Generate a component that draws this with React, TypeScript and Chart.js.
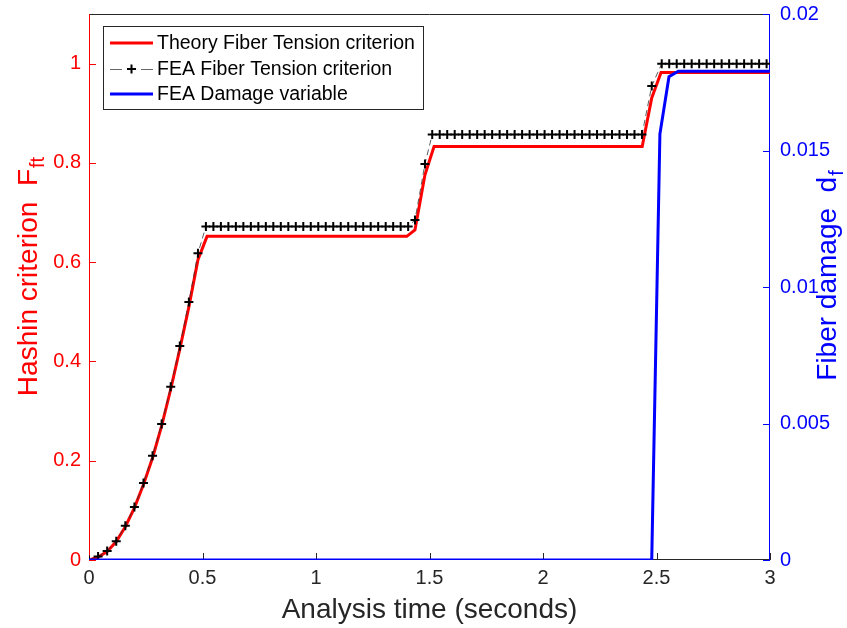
import React, { useEffect, useRef } from 'react';
import { Chart, registerables } from 'chart.js';

Chart.register(...registerables);

// ---- data ----
const theoryTime = [0, 0.04, 0.08, 0.12, 0.16, 0.2, 0.24, 0.28, 0.32, 0.36, 0.4, 0.44, 0.48, 0.52, 1.4, 1.436, 1.48, 1.52, 2.437, 2.479, 2.52, 3.0];
const theoryValue = [0, 0.006, 0.017, 0.037, 0.067, 0.105, 0.152, 0.206, 0.27, 0.344, 0.425, 0.51, 0.605, 0.652, 0.652, 0.665, 0.776, 0.833, 0.833, 0.931, 0.982, 0.982];

const feaTime = [
  0, 0.04, 0.08, 0.12, 0.16, 0.2, 0.24, 0.28, 0.32, 0.36, 0.4, 0.44, 0.48,
  0.515, 0.548, 0.581, 0.614, 0.647, 0.68, 0.713, 0.746, 0.779, 0.812, 0.845, 0.878, 0.911, 0.944,
  0.977, 1.01, 1.043, 1.076, 1.109, 1.142, 1.175, 1.208, 1.241, 1.274, 1.307, 1.34, 1.373, 1.406,
  1.436, 1.48,
  1.512, 1.545, 1.578, 1.611, 1.644, 1.677, 1.71, 1.743, 1.776, 1.809, 1.842, 1.875, 1.908, 1.941,
  1.974, 2.007, 2.04, 2.073, 2.106, 2.139, 2.172, 2.205, 2.238, 2.271, 2.304, 2.337, 2.37, 2.403, 2.436,
  2.479,
  2.523, 2.556, 2.589, 2.622, 2.655, 2.688, 2.721, 2.754, 2.787, 2.82, 2.853, 2.886, 2.919, 2.952, 2.985,
];
const feaValue = [
  0, 0.007, 0.018, 0.038, 0.069, 0.107, 0.155, 0.21, 0.274, 0.349, 0.431, 0.52, 0.618,
  0.672, 0.672, 0.672, 0.672, 0.672, 0.672, 0.672, 0.672, 0.672, 0.672, 0.672, 0.672, 0.672, 0.672,
  0.672, 0.672, 0.672, 0.672, 0.672, 0.672, 0.672, 0.672, 0.672, 0.672, 0.672, 0.672, 0.672, 0.672,
  0.685, 0.798,
  0.857, 0.857, 0.857, 0.857, 0.857, 0.857, 0.857, 0.857, 0.857, 0.857, 0.857, 0.857, 0.857, 0.857,
  0.857, 0.857, 0.857, 0.857, 0.857, 0.857, 0.857, 0.857, 0.857, 0.857, 0.857, 0.857, 0.857, 0.857, 0.857,
  0.955,
  1.0, 1.0, 1.0, 1.0, 1.0, 1.0, 1.0, 1.0, 1.0, 1.0, 1.0, 1.0, 1.0, 1.0, 1.0,
];

const damageTime = [0, 2.479, 2.515, 2.555, 2.596, 3.0];
const damageValue = [0, 0, 0.0156, 0.0177, 0.0179, 0.0179];

const xTicks = [0, 0.5, 1, 1.5, 2, 2.5, 3];
const xTickLabels = ['0', '0.5', '1', '1.5', '2', '2.5', '3'];
const leftTicks = [0, 0.2, 0.4, 0.6, 0.8, 1];
const leftTickLabels = ['0', '0.2', '0.4', '0.6', '0.8', '1'];
const rightTicks = [0, 0.005, 0.01, 0.015, 0.02];
const rightTickLabels = ['0', '0.005', '0.01', '0.015', '0.02'];

const legendLabels = ['Theory Fiber Tension criterion', 'FEA Fiber Tension criterion', 'FEA Damage variable'];
const xTitle = 'Analysis time (seconds)';
const leftTitle = 'Hashin criterion  F';
const leftTitleSub = 'ft';
const rightTitle = 'Fiber damage  d';
const rightTitleSub = 'f';

const FONT = "'Liberation Sans', Arial, Helvetica, sans-serif";
const RED = '#ff0000';
const BLUE = '#0000ff';
const DARK = '#262626';

const toPoints = (xs: number[], ys: number[]) => xs.map((x, i) => ({ x, y: ys[i] }));

const noPad = (s: any) => {
  s.paddingTop = 0;
  s.paddingBottom = 0;
  s.paddingLeft = 0;
  s.paddingRight = 0;
};

const decorPlugin = {
  id: 'decor',
  beforeDatasetsDraw(chart: any) {
    const { ctx, chartArea, scales } = chart;
    const { left, right, top, bottom } = chartArea;
    ctx.save();
    ctx.lineWidth = 1;
    ctx.strokeStyle = DARK;
    ctx.beginPath();
    ctx.moveTo(left, Math.round(top) + 0.5);
    ctx.lineTo(right, Math.round(top) + 0.5);
    ctx.stroke();
    ctx.beginPath();
    ctx.moveTo(left, Math.round(bottom) - 0.5);
    ctx.lineTo(right, Math.round(bottom) - 0.5);
    ctx.stroke();
    xTicks.forEach((v) => {
      const px = Math.round(scales.x.getPixelForValue(v)) + 0.5;
      ctx.beginPath();
      ctx.moveTo(px, bottom);
      ctx.lineTo(px, bottom - 7);
      ctx.stroke();
    });
    ctx.strokeStyle = RED;
    ctx.beginPath();
    ctx.moveTo(Math.round(left) + 0.5, top);
    ctx.lineTo(Math.round(left) + 0.5, bottom);
    ctx.stroke();
    leftTicks.forEach((v) => {
      const py = Math.round(scales.y.getPixelForValue(v)) + 0.5;
      ctx.beginPath();
      ctx.moveTo(left, py);
      ctx.lineTo(left + 7, py);
      ctx.stroke();
    });
    ctx.strokeStyle = BLUE;
    ctx.beginPath();
    ctx.moveTo(Math.round(right) - 0.5, top);
    ctx.lineTo(Math.round(right) - 0.5, bottom);
    ctx.stroke();
    rightTicks.forEach((v) => {
      const py = Math.round(scales.y1.getPixelForValue(v)) + 0.5;
      ctx.beginPath();
      ctx.moveTo(right, py);
      ctx.lineTo(right - 7, py);
      ctx.stroke();
    });
    ctx.restore();
  },
  afterDraw(chart: any) {
    const { ctx, chartArea } = chart;
    const { left, right, top, bottom } = chartArea;
    const midY = (top + bottom) / 2 - 8;
    ctx.save();
    ctx.fillStyle = DARK;
    ctx.font = `28px ${FONT}`;
    ctx.textAlign = 'center';
    ctx.textBaseline = 'alphabetic';
    ctx.fillText(xTitle, (left + right) / 2, 618);

    const drawVertical = (main: string, sub: string, x: number, cy: number, color: string) => {
      ctx.save();
      ctx.translate(x, cy);
      ctx.rotate(-Math.PI / 2);
      ctx.fillStyle = color;
      ctx.textAlign = 'left';
      ctx.font = `28px ${FONT}`;
      const wMain = ctx.measureText(main).width;
      ctx.font = `20px ${FONT}`;
      const wSub = ctx.measureText(sub).width;
      const start = -(wMain + wSub) / 2;
      ctx.font = `28px ${FONT}`;
      ctx.fillText(main, start, 0);
      ctx.font = `20px ${FONT}`;
      ctx.fillText(sub, start + wMain + 1, 7);
      ctx.restore();
    };
    drawVertical(leftTitle, leftTitleSub, 37, midY - 2, RED);
    drawVertical(rightTitle, rightTitleSub, 836, midY - 3, BLUE);

    const bx = 103, by = 26, bw = 320, bh = 83;
    ctx.fillStyle = '#ffffff';
    ctx.fillRect(bx, by, bw, bh);
    ctx.strokeStyle = DARK;
    ctx.lineWidth = 1;
    ctx.strokeRect(bx + 0.5, by + 0.5, bw, bh);
    const rows = [43, 69, 94];
    const sx0 = 110, sx1 = 153;
    ctx.font = `19.5px ${FONT}`;
    ctx.textAlign = 'left';
    ctx.textBaseline = 'middle';
    ctx.strokeStyle = RED;
    ctx.lineWidth = 3;
    ctx.beginPath();
    ctx.moveTo(sx0, rows[0]);
    ctx.lineTo(sx1, rows[0]);
    ctx.stroke();
    ctx.strokeStyle = '#666666';
    ctx.lineWidth = 1;
    ctx.beginPath();
    ctx.moveTo(sx0, rows[1] + 0.5);
    ctx.lineTo(sx0 + 12, rows[1] + 0.5);
    ctx.moveTo(sx1 - 12, rows[1] + 0.5);
    ctx.lineTo(sx1, rows[1] + 0.5);
    ctx.stroke();
    const cx = (sx0 + sx1) / 2;
    ctx.strokeStyle = '#000000';
    ctx.lineWidth = 2;
    ctx.beginPath();
    ctx.moveTo(cx - 4.5, rows[1]);
    ctx.lineTo(cx + 4.5, rows[1]);
    ctx.moveTo(cx, rows[1] - 4.5);
    ctx.lineTo(cx, rows[1] + 4.5);
    ctx.stroke();
    ctx.strokeStyle = BLUE;
    ctx.lineWidth = 3;
    ctx.beginPath();
    ctx.moveTo(sx0, rows[2]);
    ctx.lineTo(sx1, rows[2]);
    ctx.stroke();
    ctx.fillStyle = '#000000';
    legendLabels.forEach((t, i) => ctx.fillText(t, 157, rows[i] + 1));
    ctx.restore();
  },
};

export default function App() {
  const ref = useRef<HTMLCanvasElement | null>(null);
  useEffect(() => {
    if (!ref.current) return;
    const chart = new Chart(ref.current, {
      type: 'line',
      data: {
        datasets: [
          {
            label: legendLabels[2],
            data: toPoints(damageTime, damageValue),
            yAxisID: 'y1',
            borderColor: BLUE,
            backgroundColor: BLUE,
            borderWidth: 3,
            pointRadius: 0,
            tension: 0,
            order: 0,
          },
          {
            label: legendLabels[1],
            data: toPoints(feaTime, feaValue),
            yAxisID: 'y',
            borderColor: '#333333',
            backgroundColor: '#000000',
            borderWidth: 0.8,
            borderDash: [6, 4],
            pointStyle: 'cross',
            pointRadius: 4.5,
            pointBorderWidth: 2,
            pointBorderColor: '#000000',
            tension: 0,
            order: 1,
          },
          {
            label: legendLabels[0],
            data: toPoints(theoryTime, theoryValue),
            yAxisID: 'y',
            borderColor: RED,
            backgroundColor: RED,
            borderWidth: 3,
            pointRadius: 0,
            tension: 0,
            order: 2,
          },
        ],
      },
      options: {
        animation: false,
        responsive: false,
        maintainAspectRatio: false,
        layout: { padding: { top: 14, left: 0, right: 0, bottom: 0 } },
        plugins: { legend: { display: false }, tooltip: { enabled: false } },
        scales: {
          x: {
            type: 'linear',
            min: 0,
            max: 3,
            afterBuildTicks: (s: any) => { s.ticks = xTicks.map((v) => ({ value: v })); },
            afterFit: (s: any) => { s.height = 68; noPad(s); },
            grid: { display: false, drawTicks: false },
            border: { display: false },
            ticks: {
              color: DARK,
              font: { family: FONT, size: 20 },
              padding: 6,
              maxRotation: 0,
              autoSkip: false,
              callback: (v: any) => xTickLabels[xTicks.indexOf(Number(v))],
            },
          },
          y: {
            type: 'linear',
            position: 'left',
            min: 0,
            max: 1.1,
            afterBuildTicks: (s: any) => { s.ticks = leftTicks.map((v) => ({ value: v })); },
            afterFit: (s: any) => { s.width = 89; noPad(s); },
            grid: { display: false, drawTicks: false },
            border: { display: false },
            ticks: {
              color: RED,
              font: { family: FONT, size: 20 },
              padding: 8,
              autoSkip: false,
              callback: (v: any) => leftTickLabels[leftTicks.indexOf(Number(v))],
            },
          },
          y1: {
            type: 'linear',
            position: 'right',
            min: 0,
            max: 0.02,
            afterBuildTicks: (s: any) => { s.ticks = rightTicks.map((v) => ({ value: v })); },
            afterFit: (s: any) => { s.width = 77; noPad(s); },
            grid: { display: false, drawTicks: false },
            border: { display: false },
            ticks: {
              color: BLUE,
              font: { family: FONT, size: 20 },
              padding: 10,
              autoSkip: false,
              callback: (v: any) => rightTickLabels[rightTicks.indexOf(Number(v))],
            },
          },
        },
      },
      plugins: [decorPlugin],
    } as any);
    return () => chart.destroy();
  }, []);
  return (
    <div style={{ position: 'absolute', left: 0, top: 0, width: 847, height: 628, background: '#fff' }}>
      <canvas ref={ref} width={847} height={628} style={{ display: 'block', width: 847, height: 628 }} />
    </div>
  );
}
